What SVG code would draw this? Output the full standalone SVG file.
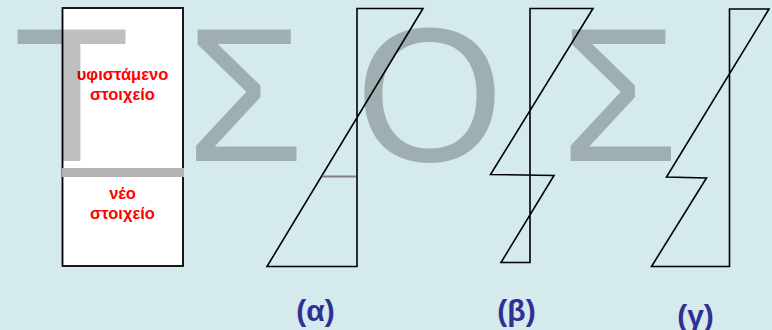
<svg xmlns="http://www.w3.org/2000/svg" width="772" height="330" viewBox="0 0 772 330">
<style>
.wm{font-family:"Liberation Sans",Arial,sans-serif;font-size:191px;fill:#000;fill-opacity:.25;text-anchor:middle}
.red{font-family:"Liberation Sans",Arial,sans-serif;font-size:16.5px;font-weight:bold;fill:#ff0000;text-anchor:middle}
.lbl{font-family:"Liberation Sans",Arial,sans-serif;font-size:30px;font-weight:bold;fill:#303094;text-anchor:middle}
.ln{fill:none;stroke:#000;stroke-width:1.6;stroke-linejoin:miter}
</style>
<rect x="0" y="0" width="772" height="330" fill="#d4eaed"/>
<g id="element">
<rect x="62.5" y="8" width="120.5" height="258" fill="#fff" stroke="#000" stroke-width="1.8"/>
<rect x="62" y="168" width="122" height="9" fill="#b3b3b3"/>
<text class="red" x="122.5" y="79.5">υφιστάμενο</text>
<text class="red" x="122.5" y="99.5">στοιχείο</text>
<text class="red" x="122.5" y="199">νέο</text>
<text class="red" x="122.5" y="219">στοιχείο</text>
</g>
<g id="watermark">
<text class="wm" x="71.5" y="161">Τ</text>
<text class="wm" x="245" y="161">Σ</text>
<text class="wm" x="429.5" y="161">Ο</text>
<text class="wm" x="619.5" y="161">Σ</text>
</g>
<g id="connectors">
<g id="fig-a">
<polygon class="ln" points="357,8.5 423,8.5 267,266.5 357,266.5"/>
<line x1="322" y1="176.5" x2="356" y2="176.5" stroke="#808080" stroke-width="2"/>
</g>
<g id="fig-b">
<polygon class="ln" points="530,8.5 593,8.5 490.5,174.5 554,175.5 501,262.5 530,262.5"/>
</g>
<g id="fig-c">
<polygon class="ln" points="729.5,9 769,9 666.5,177 706.5,178 651.5,266.5 729.5,266.5"/>
</g>
</g>
<g id="labels">
<text class="lbl" x="315.5" y="321">(α)</text>
<text class="lbl" x="516.5" y="321">(β)</text>
<text class="lbl" x="695.5" y="326">(γ)</text>
</g>
</svg>
